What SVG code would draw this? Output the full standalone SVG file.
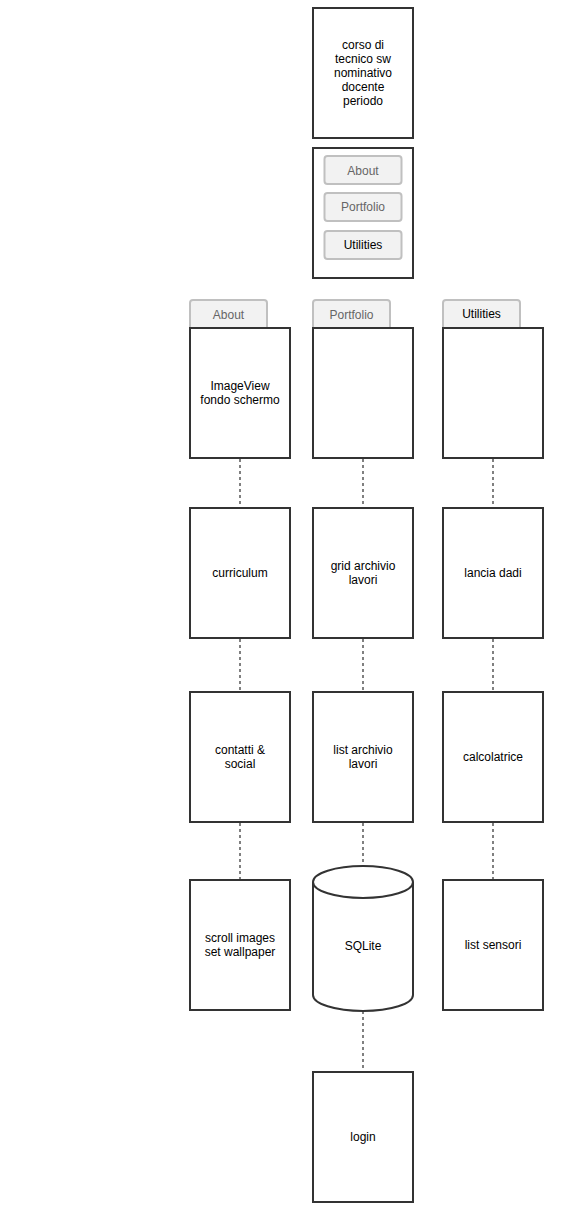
<svg xmlns="http://www.w3.org/2000/svg" width="569" height="1222" viewBox="0 0 569 1222">
<style>
.box{fill:#fff;stroke:#333;stroke-width:2}
.btn{fill:#f2f2f2;stroke:#c0c0c0;stroke-width:2}
.tab{fill:#f2f2f2;stroke:#c0c0c0;stroke-width:2}
.t{font-family:"Liberation Sans",Arial,sans-serif;font-size:12px;fill:#000;text-anchor:middle}
.g{fill:#666}
.c{fill:none;stroke:#808080;stroke-width:2;stroke-dasharray:3 3}
</style>
<rect width="569" height="1222" fill="#fff"/>
<g id="connectors">
<line class="c" x1="240" y1="459" x2="240" y2="507"/>
<line class="c" x1="363" y1="459" x2="363" y2="507"/>
<line class="c" x1="493" y1="459" x2="493" y2="507"/>
<line class="c" x1="240" y1="639" x2="240" y2="691"/>
<line class="c" x1="363" y1="639" x2="363" y2="691"/>
<line class="c" x1="493" y1="639" x2="493" y2="691"/>
<line class="c" x1="240" y1="823" x2="240" y2="879"/>
<line class="c" x1="363" y1="823" x2="363" y2="882"/>
<line class="c" x1="493" y1="823" x2="493" y2="879"/>
<line class="c" x1="363" y1="1011" x2="363" y2="1071"/>
</g>
<g id="header">
<rect class="box" x="313" y="8" width="100" height="130"/>
<text class="t" x="363" y="49">corso di</text>
<text class="t" x="363" y="63">tecnico sw</text>
<text class="t" x="363" y="77">nominativo</text>
<text class="t" x="363" y="91">docente</text>
<text class="t" x="363" y="105">periodo</text>
</g>
<g id="menu">
<rect class="box" x="313" y="148" width="100" height="130"/>
<rect class="btn" x="324.500" y="156" width="77" height="28" rx="3"/>
<text class="t g" x="363" y="175">About</text>
<rect class="btn" x="324.500" y="193" width="77" height="28" rx="3"/>
<text class="t g" x="363" y="211">Portfolio</text>
<rect class="btn" x="324.500" y="231" width="77" height="28" rx="3"/>
<text class="t" x="363" y="249">Utilities</text>
</g>
<g id="about">
<rect class="tab" x="190" y="300" width="77" height="30" rx="3"/>
<text class="t g" x="228.500" y="319">About</text>
<rect class="box" x="190" y="328" width="100" height="130"/>
<text class="t" x="240" y="390">ImageView</text>
<text class="t" x="240" y="404">fondo schermo</text>
</g>
<g id="portfolio">
<rect class="tab" x="313" y="300" width="77" height="30" rx="3"/>
<text class="t g" x="351.500" y="319">Portfolio</text>
<rect class="box" x="313" y="328" width="100" height="130"/>
</g>
<g id="utilities">
<rect class="tab" x="443" y="300" width="77" height="30" rx="3"/>
<text class="t" x="481.500" y="318">Utilities</text>
<rect class="box" x="443" y="328" width="100" height="130"/>
</g>
<g id="curriculum">
<rect class="box" x="190" y="508" width="100" height="130"/>
<text class="t" x="240" y="577">curriculum</text>
</g>
<g id="grid">
<rect class="box" x="313" y="508" width="100" height="130"/>
<text class="t" x="363" y="570">grid archivio</text>
<text class="t" x="363" y="584">lavori</text>
</g>
<g id="dadi">
<rect class="box" x="443" y="508" width="100" height="130"/>
<text class="t" x="493" y="577">lancia dadi</text>
</g>
<g id="contatti">
<rect class="box" x="190" y="692" width="100" height="130"/>
<text class="t" x="240" y="754">contatti &amp;</text>
<text class="t" x="240" y="768">social</text>
</g>
<g id="list">
<rect class="box" x="313" y="692" width="100" height="130"/>
<text class="t" x="363" y="754">list archivio</text>
<text class="t" x="363" y="768">lavori</text>
</g>
<g id="calcolatrice">
<rect class="box" x="443" y="692" width="100" height="130"/>
<text class="t" x="493" y="761">calcolatrice</text>
</g>
<g id="scroll">
<rect class="box" x="190" y="880" width="100" height="130"/>
<text class="t" x="240" y="942">scroll images</text>
<text class="t" x="240" y="956">set wallpaper</text>
</g>
<g id="sqlite">
<path class="box" d="M313 882 A50 16 0 0 1 413 882 L413 995 A50 16 0 0 1 313 995 Z"/>
<path fill="none" stroke="#333" stroke-width="2" d="M313 882 A50 16 0 0 0 413 882"/>
<text class="t" x="363" y="950">SQLite</text>
</g>
<g id="sensori">
<rect class="box" x="443" y="880" width="100" height="130"/>
<text class="t" x="493" y="949">list sensori</text>
</g>
<g id="login">
<rect class="box" x="313" y="1072" width="100" height="130"/>
<text class="t" x="363" y="1141">login</text>
</g>
</svg>
